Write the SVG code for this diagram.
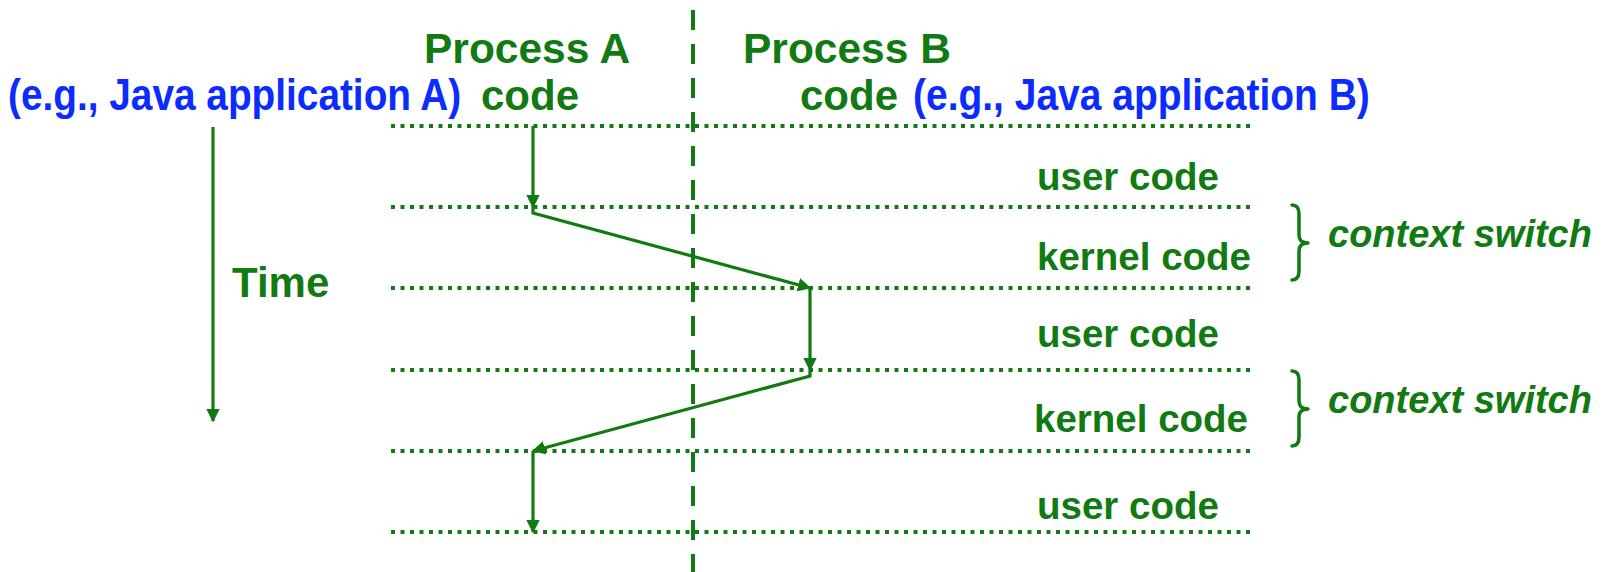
<svg xmlns="http://www.w3.org/2000/svg" width="1602" height="572" viewBox="0 0 1602 572">
<style>
.g{fill:#127a12;font-family:"Liberation Sans",Arial,sans-serif;font-weight:bold}
.b{fill:#0b2bff;font-family:"Liberation Sans",Arial,sans-serif;font-weight:bold;font-size:45px}
.i{font-style:italic}
.dot{stroke:#127a12;stroke-width:4;stroke-dasharray:4 5.5;fill:none}
.dash{stroke:#127a12;stroke-width:4;stroke-dasharray:20 14;fill:none}
.ln{stroke:#127a12;stroke-width:3.2;fill:none}
.br{stroke:#127a12;stroke-width:3.5;fill:none;stroke-linecap:round;stroke-linejoin:round}
</style>
<defs>
<marker id="ah" viewBox="0 0 10 10" refX="9" refY="5" markerWidth="4.2" markerHeight="4.2" orient="auto" markerUnits="strokeWidth">
<path d="M0,0 L10,5 L0,10 z" fill="#127a12"/>
</marker>
</defs>
<rect width="1602" height="572" fill="#fff"/>
<g id="grid">
<line class="dash" x1="693" y1="10" x2="693" y2="572"/>
<line class="dot" x1="391" y1="126" x2="1252" y2="126"/>
<line class="dot" x1="391" y1="207" x2="1252" y2="207"/>
<line class="dot" x1="391" y1="288" x2="1252" y2="288"/>
<line class="dot" x1="391" y1="370" x2="1252" y2="370"/>
<line class="dot" x1="391" y1="451" x2="1252" y2="451"/>
<line class="dot" x1="391" y1="532" x2="1252" y2="532"/>
</g>
<g id="header-a">
<text class="g" x="424" y="63" font-size="42.5">Process A</text>
<text class="g" x="481" y="110" font-size="42">code</text>
<text class="b" transform="translate(8,110) scale(0.862,1)">(e.g., Java application A)</text>
</g>
<g id="header-b">
<text class="g" x="743" y="63" font-size="42.5">Process B</text>
<text class="g" x="800" y="110" font-size="42">code</text>
<text class="b" transform="translate(913,110) scale(0.866,1)">(e.g., Java application B)</text>
</g>
<g id="time">
<line class="ln" x1="213" y1="127" x2="213" y2="421" marker-end="url(#ah)"/>
<text class="g" x="232" y="297" font-size="42">Time</text>
</g>
<g id="labels">
<text class="g" x="1037" y="190" font-size="38.5">user code</text>
<text class="g" x="1037" y="270" font-size="38.5">kernel code</text>
<text class="g" x="1037" y="347" font-size="38.5">user code</text>
<text class="g" x="1034" y="432" font-size="38.5">kernel code</text>
<text class="g" x="1037" y="519" font-size="38.5">user code</text>
</g>
<g id="switch1">
<path class="br" d="M1292,205 Q1299,205 1299,214 L1299,235 Q1299,243 1308,243 Q1299,243 1299,251 L1299,271 Q1299,280 1292,280"/>
<text class="g i" x="1328" y="247" font-size="38">context switch</text>
</g>
<g id="switch2">
<path class="br" d="M1292,371 Q1299,371 1299,380 L1299,401 Q1299,409 1308,409 Q1299,409 1299,417 L1299,437 Q1299,446 1292,446"/>
<text class="g i" x="1328" y="413" font-size="38">context switch</text>
</g>
<g id="connectors">
<line class="ln" x1="533" y1="126" x2="533" y2="207" marker-end="url(#ah)"/>
<polyline class="ln" points="533,207 533,213 810,288" marker-end="url(#ah)"/>
<line class="ln" x1="810" y1="288" x2="810" y2="370" marker-end="url(#ah)"/>
<polyline class="ln" points="810,370 810,376 533,451" marker-end="url(#ah)"/>
<line class="ln" x1="533" y1="451" x2="533" y2="532" marker-end="url(#ah)"/>
</g>
</svg>
